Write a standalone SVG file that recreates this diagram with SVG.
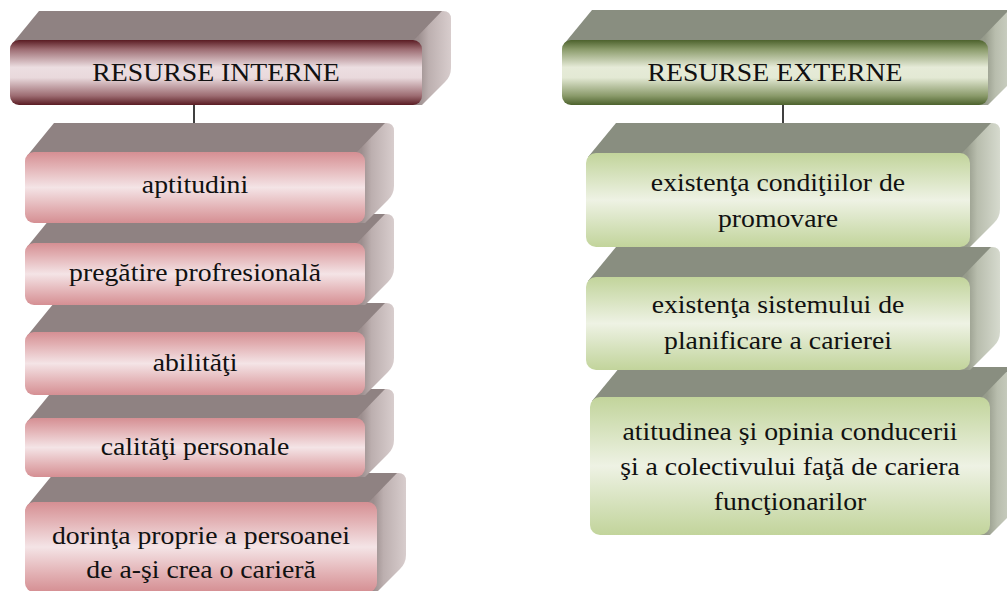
<svg xmlns="http://www.w3.org/2000/svg" width="1007" height="591" viewBox="0 0 1007 591">
  <defs>
    <!-- front faces: vertical tube shading -->
    <linearGradient id="frontHeadRed" x1="0" y1="0" x2="0" y2="1">
      <stop offset="0" stop-color="#5a1c23"/>
      <stop offset="0.14" stop-color="#9c6b71"/>
      <stop offset="0.42" stop-color="#ecdee1"/>
      <stop offset="0.58" stop-color="#e9d9dc"/>
      <stop offset="0.86" stop-color="#9c6b71"/>
      <stop offset="1" stop-color="#5a1c23"/>
    </linearGradient>
    <linearGradient id="frontRed" x1="0" y1="0" x2="0" y2="1">
      <stop offset="0" stop-color="#d58f93"/>
      <stop offset="0.2" stop-color="#e2b0b3"/>
      <stop offset="0.5" stop-color="#f4e4e6"/>
      <stop offset="0.8" stop-color="#e2b0b3"/>
      <stop offset="1" stop-color="#d58f93"/>
    </linearGradient>
    <linearGradient id="frontHeadGreen" x1="0" y1="0" x2="0" y2="1">
      <stop offset="0" stop-color="#4d622d"/>
      <stop offset="0.14" stop-color="#8a9a6a"/>
      <stop offset="0.42" stop-color="#e6ebd8"/>
      <stop offset="0.58" stop-color="#e3e9d4"/>
      <stop offset="0.86" stop-color="#8a9a6a"/>
      <stop offset="1" stop-color="#4d622d"/>
    </linearGradient>
    <linearGradient id="frontGreen" x1="0" y1="0" x2="0" y2="1">
      <stop offset="0" stop-color="#c2d49b"/>
      <stop offset="0.2" stop-color="#d3e0b8"/>
      <stop offset="0.5" stop-color="#eef2e4"/>
      <stop offset="0.8" stop-color="#d3e0b8"/>
      <stop offset="1" stop-color="#c2d49b"/>
    </linearGradient>
    <!-- side faces: light falling from the right -->
    <linearGradient id="sideRed" x1="0" y1="0" x2="1" y2="0">
      <stop offset="0" stop-color="#8f8282"/>
      <stop offset="0.45" stop-color="#9c8e8e"/>
      <stop offset="0.62" stop-color="#bcafaf"/>
      <stop offset="1" stop-color="#d8cdcd"/>
    </linearGradient>
    <linearGradient id="sideGreen" x1="0" y1="0" x2="1" y2="0">
      <stop offset="0" stop-color="#898d80"/>
      <stop offset="0.45" stop-color="#979c8c"/>
      <stop offset="0.62" stop-color="#b8bdad"/>
      <stop offset="1" stop-color="#d6dace"/>
    </linearGradient>
  </defs>
  <style>
    .topRed { fill: #8f8282; }
    .topGreen { fill: #898e80; }
    .sideRed { fill: url(#sideRed); }
    .sideGreen { fill: url(#sideGreen); }
    .t { font-size: 25px; fill: #111; text-anchor: middle; }
    .link { stroke: #000; stroke-width: 1.5; fill: none; }
  </style>

  <rect width="1007" height="591" fill="#fff"/>

  <g font-family="Liberation Serif, Times New Roman, DejaVu Serif, serif">
  <!-- left column: internal resources (lower blocks first so upper ones overlap them) -->
  <g id="node-dorinta">
    <path class="sideRed" d="M347,502 L376,473 L398,473 Q406,473 406,481 L406,555 Q406,563 400,569 L377,592 L347,592 Z"/>
    <path class="topRed" d="M27,506 L54,473 L397,473 L368,503 Z"/>
    <rect x="25" y="502" width="352" height="90" rx="9" fill="url(#frontRed)"/>
    <text class="t" transform="translate(201 544) scale(1.11 1)">dorinţa proprie a persoanei</text>
    <text class="t" transform="translate(201 578) scale(1.11 1)">de a-şi crea o carieră</text>
  </g>
  <g id="node-calitati">
    <path class="sideRed" d="M335,418 L364,389 L386,389 Q394,389 394,397 L394,440 Q394,448 388,454 L365,477 L335,477 Z"/>
    <path class="topRed" d="M27,422 L54,389 L385,389 L356,419 Z"/>
    <rect x="25" y="418" width="340" height="59" rx="9" fill="url(#frontRed)"/>
    <text class="t" transform="translate(195 455) scale(1.11 1)">calităţi personale</text>
  </g>
  <g id="node-abilitati">
    <path class="sideRed" d="M335,332 L364,303 L386,303 Q394,303 394,311 L394,358 Q394,366 388,372 L365,395 L335,395 Z"/>
    <path class="topRed" d="M27,336 L54,303 L385,303 L356,333 Z"/>
    <rect x="25" y="332" width="340" height="63" rx="9" fill="url(#frontRed)"/>
    <text class="t" transform="translate(195 371) scale(1.11 1)">abilităţi</text>
  </g>
  <g id="node-pregatire">
    <path class="sideRed" d="M335,243 L364,214 L386,214 Q394,214 394,222 L394,268 Q394,276 388,282 L365,305 L335,305 Z"/>
    <path class="topRed" d="M27,247 L54,214 L385,214 L356,244 Z"/>
    <rect x="25" y="243" width="340" height="62" rx="9" fill="url(#frontRed)"/>
    <text class="t" transform="translate(195 281) scale(1.11 1)">pregătire profresională</text>
  </g>
  <g id="node-aptitudini">
    <path class="sideRed" d="M335,152 L364,123 L386,123 Q394,123 394,131 L394,186 Q394,194 388,200 L365,223 L335,223 Z"/>
    <path class="topRed" d="M27,156 L54,123 L385,123 L356,153 Z"/>
    <rect x="25" y="152" width="340" height="71" rx="9" fill="url(#frontRed)"/>
    <text class="t" transform="translate(195 193) scale(1.11 1)">aptitudini</text>
  </g>
  <g id="node-resurse-interne">
    <path class="sideRed" d="M392,40 L421,11 L443,11 Q451,11 451,19 L451,68 Q451,76 445,82 L422,105 L392,105 Z"/>
    <path class="topRed" d="M12,44 L39,11 L442,11 L413,41 Z"/>
    <rect x="10" y="40" width="412" height="65" rx="9" fill="url(#frontHeadRed)"/>
    <text class="t" transform="translate(216 80.5) scale(1.11 1)">RESURSE INTERNE</text>
  </g>

  <!-- right column: external resources -->
  <g id="node-atitudinea">
    <path class="sideGreen" d="M960,397 L990,367 L1012,367 Q1020,367 1020,375 L1020,497 Q1020,505 1014,511 L990,535 L960,535 Z"/>
    <path class="topGreen" d="M592,401 L620,367 L1011,367 L981,398 Z"/>
    <rect x="590" y="397" width="400" height="138" rx="10" fill="url(#frontGreen)"/>
    <text class="t" transform="translate(790 440) scale(1.11 1)">atitudinea şi opinia conducerii</text>
    <text class="t" transform="translate(790 475) scale(1.11 1)">şi a colectivului faţă de cariera</text>
    <text class="t" transform="translate(790 510) scale(1.11 1)">funcţionarilor</text>
  </g>
  <g id="node-sistem">
    <path class="sideGreen" d="M940,277 L970,247 L992,247 Q1000,247 1000,255 L1000,332 Q1000,340 994,346 L970,370 L940,370 Z"/>
    <path class="topGreen" d="M588,281 L616,247 L991,247 L961,278 Z"/>
    <rect x="586" y="277" width="384" height="93" rx="10" fill="url(#frontGreen)"/>
    <text class="t" transform="translate(778 313) scale(1.11 1)">existenţa sistemului de</text>
    <text class="t" transform="translate(778 349) scale(1.11 1)">planificare a carierei</text>
  </g>
  <g id="node-conditii">
    <path class="sideGreen" d="M940,153 L970,123 L992,123 Q1000,123 1000,131 L1000,209 Q1000,217 994,223 L970,247 L940,247 Z"/>
    <path class="topGreen" d="M588,157 L616,123 L991,123 L961,154 Z"/>
    <rect x="586" y="153" width="384" height="94" rx="10" fill="url(#frontGreen)"/>
    <text class="t" transform="translate(778 191) scale(1.11 1)">existenţa condiţiilor de</text>
    <text class="t" transform="translate(778 227) scale(1.11 1)">promovare</text>
  </g>
  <g id="node-resurse-externe">
    <path class="sideGreen" d="M958,40 L988,10 L1010,10 Q1018,10 1018,18 L1018,67 Q1018,75 1012,81 L988,105 L958,105 Z"/>
    <path class="topGreen" d="M564,44 L592,10 L1009,10 L979,41 Z"/>
    <rect x="562" y="40" width="426" height="65" rx="9" fill="url(#frontHeadGreen)"/>
    <text class="t" transform="translate(775 80.5) scale(1.11 1)">RESURSE EXTERNE</text>
  </g>
  </g>

  <!-- connectors from each heading to its first block -->
  <g id="connectors">
    <line class="link" x1="194" y1="105" x2="194" y2="123"/>
    <line class="link" x1="783" y1="105" x2="783" y2="123"/>
  </g>
</svg>
